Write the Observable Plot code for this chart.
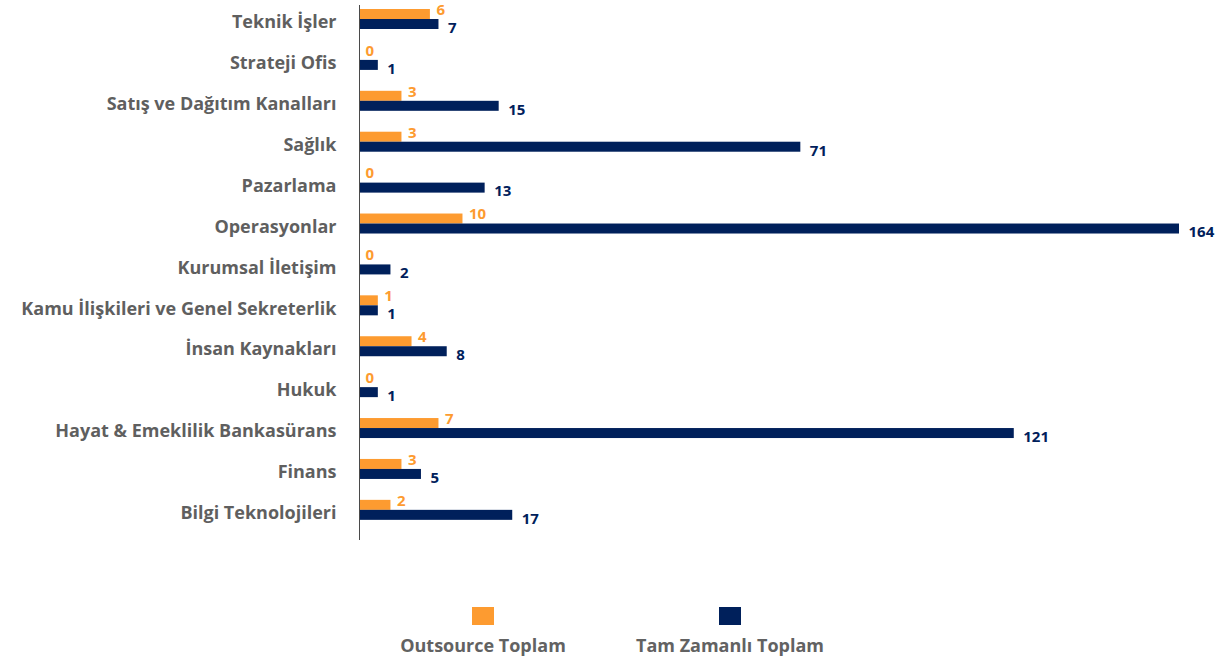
<!DOCTYPE html>
<html>
<head>
<meta charset="utf-8">
<script src="https://cdn.jsdelivr.net/npm/d3@7"></script>
<script src="https://cdn.jsdelivr.net/npm/@observablehq/plot@0.6"></script>
<style>
  html, body { margin: 0; padding: 0; background: #fff; }
  #chart { width: 1231px; }
  #legend { position: relative; width: 1231px; height: 71px; font-family: "Open Sans", Lato, sans-serif; }
  .item { position: absolute; top: 17px; width: 260px; text-align: center; color: #626262; font-weight: 700; font-size: 18px; line-height: 22px; }
  .sw { display: block; width: 22px; height: 18px; margin: 0 auto 9px auto; }
</style>
</head>
<body>
<div id="chart"></div>
<div id="legend"></div>
<script>
const categories = [
  "Teknik İşler",
  "Strateji Ofis",
  "Satış ve Dağıtım Kanalları",
  "Sağlık",
  "Pazarlama",
  "Operasyonlar",
  "Kurumsal İletişim",
  "Kamu İlişkileri ve Genel Sekreterlik",
  "İnsan Kaynakları",
  "Hukuk",
  "Hayat & Emeklilik Bankasürans",
  "Finans",
  "Bilgi Teknolojileri"
];
const outsource  = [6, 0, 3, 3, 0, 10, 0, 1, 4, 0, 7, 3, 2];
const tamZamanli = [7, 1, 15, 71, 13, 164, 2, 1, 8, 1, 121, 5, 17];
const seriesNames = ["Outsource Toplam", "Tam Zamanlı Toplam"];
const seriesColors = ["#fd9b30", "#00205b"];

const rows = categories.map((c, i) => ({category: c, outsource: outsource[i], tam: tamZamanli[i]}));

const yTop = -1.45, yBottom = 530.3;
const bw = (yBottom - yTop) / categories.length;
const half = bw / 2;

const chart = Plot.plot({
  width: 1231,
  height: 590,
  marginTop: 5,
  marginBottom: 50,
  marginLeft: 359,
  marginRight: 52,
  style: {fontFamily: "'Open Sans', Lato, sans-serif", background: "#fff"},
  x: {type: "pow", exponent: 0.74, domain: [0, 164], range: [359, 1179], axis: null},
  y: {domain: categories, range: [yTop, yBottom], padding: 0, round: false, axis: null},
  marks: [
    Plot.barX(rows, {y: "category", x: "outsource", fill: seriesColors[0], insetTop: half - 10, insetBottom: half}),
    Plot.barX(rows, {y: "category", x: "tam", fill: seriesColors[1], insetTop: half, insetBottom: half - 10}),
    Plot.ruleX([0], {stroke: "#4a4a4a", strokeWidth: 1}),
    Plot.text(rows, {y: "category", x: 0, text: "category", textAnchor: "end", dx: -23, dy: 3,
      fill: "#5f5f5f", fontWeight: "bold", fontSize: 18}),
    Plot.text(rows, {y: "category", x: "outsource", text: d => String(d.outsource), textAnchor: "start",
      dx: 6, dy: -9.5, fill: seriesColors[0], fontWeight: "bold", fontSize: 15}),
    Plot.text(rows, {y: "category", x: "tam", text: d => String(d.tam), textAnchor: "start",
      dx: 9, dy: 8.5, fill: seriesColors[1], fontWeight: "bold", fontSize: 15})
  ]
});
document.getElementById("chart").appendChild(chart);

const legend = document.getElementById("legend");
const centers = [483, 730];
seriesNames.forEach((name, i) => {
  const item = document.createElement("div");
  item.className = "item";
  item.style.left = (centers[i] - 130) + "px";
  const sw = document.createElement("span");
  sw.className = "sw";
  sw.style.background = seriesColors[i];
  item.appendChild(sw);
  item.appendChild(document.createTextNode(name));
  legend.appendChild(item);
});
</script>
</body>
</html>
